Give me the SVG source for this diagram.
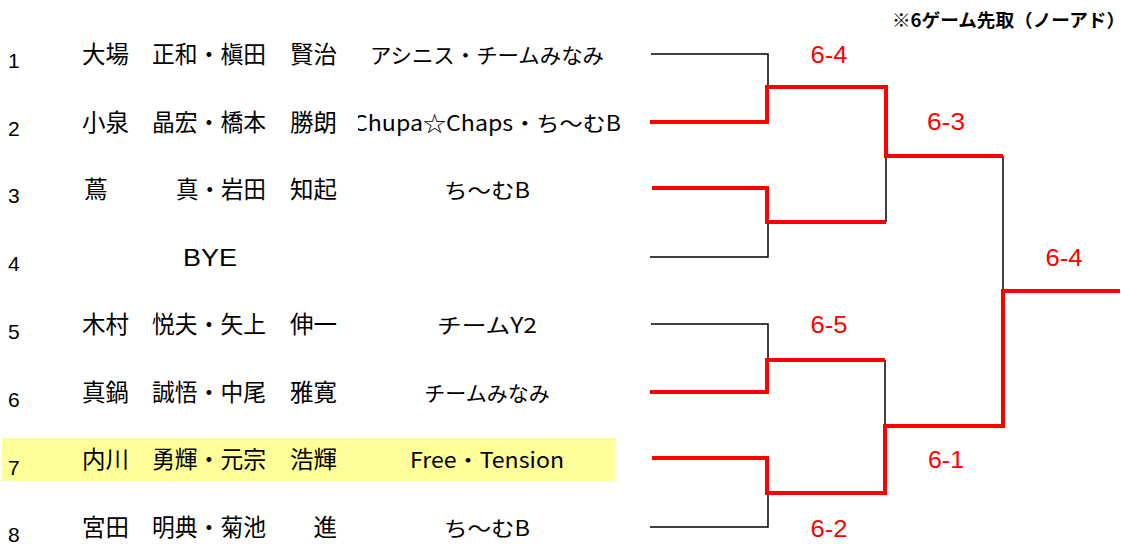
<svg xmlns="http://www.w3.org/2000/svg" width="1131" height="544" viewBox="0 0 1131 544">
<style>
.num{font-family:"Liberation Sans",Arial,sans-serif;font-size:21px;fill:#000}
.nm{font-family:"Noto Sans CJK JP","Noto Sans CJK SC",sans-serif;font-size:23.5px;fill:#000}
.tm{font-family:"Noto Sans CJK JP","Noto Sans CJK SC",sans-serif;font-size:21px;fill:#000;text-anchor:middle}
.lat{font-family:"Liberation Sans",Arial,sans-serif;font-size:23px;fill:#000}
.sc{font-family:"Liberation Sans",Arial,sans-serif;font-size:24px;fill:#FF0000;text-anchor:middle}
.blk{fill:none;stroke:#000;stroke-width:1.5}
.red{fill:none;stroke:#FF0000;stroke-width:4;stroke-linejoin:miter}
.hdr{font-family:"Noto Sans CJK JP","Noto Sans CJK SC",sans-serif;font-size:18px;font-weight:700;fill:#000;text-anchor:end}
</style>
<defs>
<clipPath id="teamclip"><rect x="358" y="0" width="300" height="544"/></clipPath>
</defs>
<rect width="1131" height="544" fill="#fff"/>
<rect x="2" y="438" width="614" height="43" fill="#FFFF99"/>
<text class="hdr" x="1125" y="27" textLength="233" lengthAdjust="spacingAndGlyphs">※6ゲーム先取（ノーアド）</text>

<g id="row1">
<text class="num" x="8" y="68">1</text>
<text class="nm" x="82" y="63">大場</text>
<text class="nm" x="266" y="63" text-anchor="end" textLength="114" lengthAdjust="spacingAndGlyphs">正和・槇田</text>
<text class="nm" x="337" y="63" text-anchor="end">賢治</text>
<text class="tm" x="487" y="63" textLength="234" lengthAdjust="spacingAndGlyphs">アシニス・チームみなみ</text>
</g>
<g id="row2">
<text class="num" x="8" y="136">2</text>
<text class="nm" x="82" y="131">小泉</text>
<text class="nm" x="266" y="131" text-anchor="end" textLength="114" lengthAdjust="spacingAndGlyphs">晶宏・橋本</text>
<text class="nm" x="337" y="131" text-anchor="end">勝朗</text>
<g clip-path="url(#teamclip)"><text class="tm" x="487" y="131" textLength="268" lengthAdjust="spacingAndGlyphs">Chupa☆Chaps・ち～むB</text></g>
</g>
<g id="row3">
<text class="num" x="8" y="203">3</text>
<text class="nm" x="84" y="198">蔦</text>
<text class="nm" x="266" y="198" text-anchor="end" textLength="90" lengthAdjust="spacingAndGlyphs">真・岩田</text>
<text class="nm" x="337" y="198" text-anchor="end">知起</text>
<text class="tm" x="487" y="198" textLength="86" lengthAdjust="spacingAndGlyphs">ち～むB</text>
</g>
<g id="row4">
<text class="num" x="8" y="271">4</text>
<text class="lat" x="183" y="266" textLength="54" lengthAdjust="spacingAndGlyphs">BYE</text>
</g>
<g id="row5">
<text class="num" x="8" y="339">5</text>
<text class="nm" x="82" y="333">木村</text>
<text class="nm" x="266" y="333" text-anchor="end" textLength="114" lengthAdjust="spacingAndGlyphs">悦夫・矢上</text>
<text class="nm" x="337" y="333" text-anchor="end">伸一</text>
<text class="tm" x="487" y="333" textLength="100" lengthAdjust="spacingAndGlyphs">チームY2</text>
</g>
<g id="row6">
<text class="num" x="8" y="407">6</text>
<text class="nm" x="82" y="401">真鍋</text>
<text class="nm" x="266" y="401" text-anchor="end" textLength="114" lengthAdjust="spacingAndGlyphs">誠悟・中尾</text>
<text class="nm" x="337" y="401" text-anchor="end">雅寛</text>
<text class="tm" x="487" y="401">チームみなみ</text>
</g>
<g id="row7">
<text class="num" x="8" y="475">7</text>
<text class="nm" x="82" y="468">内川</text>
<text class="nm" x="266" y="468" text-anchor="end" textLength="114" lengthAdjust="spacingAndGlyphs">勇輝・元宗</text>
<text class="nm" x="337" y="468" text-anchor="end">浩輝</text>
<text class="tm" x="487" y="468" textLength="154" lengthAdjust="spacingAndGlyphs">Free・Tension</text>
</g>
<g id="row8">
<text class="num" x="8" y="542">8</text>
<text class="nm" x="82" y="536">宮田</text>
<text class="nm" x="266" y="536" text-anchor="end" textLength="114" lengthAdjust="spacingAndGlyphs">明典・菊池</text>
<text class="nm" x="337" y="536" text-anchor="end">進</text>
<text class="tm" x="487" y="536" textLength="86" lengthAdjust="spacingAndGlyphs">ち～むB</text>
</g>

<g id="connectors">
<path class="blk" d="M651,54 H768 V87"/>
<path class="blk" d="M650,257 H768 V222"/>
<path class="blk" d="M886,156 V222"/>
<path class="blk" d="M1003,156 V291"/>
<path class="blk" d="M651,324 H768 V360"/>
<path class="blk" d="M885,360 V426"/>
<path class="blk" d="M650,527 H768 V493"/>
<path class="red" d="M650,122 H767 V87 H886 V156 H1003"/>
<path class="red" d="M652,188 H767 V222 H886"/>
<path class="red" d="M650,392 H767 V360 H885"/>
<path class="red" d="M652,458 H767 V493 H885 V426 H1003 V291 H1120"/>
</g>

<g id="scores">
<text class="sc" x="829" y="63" textLength="37" lengthAdjust="spacingAndGlyphs">6-4</text>
<text class="sc" x="946" y="130" textLength="38" lengthAdjust="spacingAndGlyphs">6-3</text>
<text class="sc" x="1064" y="266" textLength="37" lengthAdjust="spacingAndGlyphs">6-4</text>
<text class="sc" x="829" y="333" textLength="37" lengthAdjust="spacingAndGlyphs">6-5</text>
<text class="sc" x="946" y="468" textLength="36" lengthAdjust="spacingAndGlyphs">6-1</text>
<text class="sc" x="829" y="537" textLength="37" lengthAdjust="spacingAndGlyphs">6-2</text>
</g>
</svg>
